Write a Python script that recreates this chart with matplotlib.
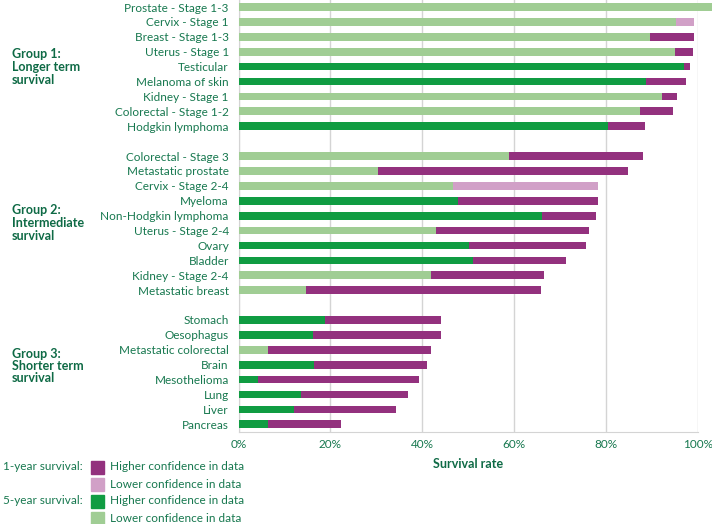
import matplotlib
matplotlib.use('Agg')
import matplotlib.pyplot as plt
from matplotlib.patches import Rectangle

plt.rcParams['font.family'] = ['Lato', 'DejaVu Sans']

# group 1: longer term, group 2: intermediate, group 3: shorter term
group1 = ['Prostate - Stage 1-3', 'Cervix - Stage 1', 'Breast - Stage 1-3', 'Uterus - Stage 1',
          'Testicular', 'Melanoma of skin', 'Kidney - Stage 1', 'Colorectal - Stage 1-2',
          'Hodgkin lymphoma']
group2 = ['Colorectal - Stage 3', 'Metastatic prostate', 'Cervix - Stage 2-4', 'Myeloma',
          'Non-Hodgkin lymphoma', 'Uterus - Stage 2-4', 'Ovary', 'Bladder',
          'Kidney - Stage 2-4', 'Metastatic breast']
group3 = ['Stomach', 'Oesophagus', 'Metastatic colorectal', 'Brain', 'Mesothelioma',
          'Lung', 'Liver', 'Pancreas']

five_year = [103.2, 95.3, 89.6, 95.1, 97.1, 88.7, 92.3, 87.5, 80.4,
             58.8, 30.4, 46.7, 47.8, 66.0, 43.0, 50.2, 51.0, 42.0, 14.7,
             18.8, 16.2, 6.4, 16.4, 4.3, 13.6, 12.0, 6.4]
one_year = [100.0, 99.1, 99.1, 98.9, 98.4, 97.4, 95.5, 94.6, 88.6,
            88.0, 84.9, 78.3, 78.3, 77.8, 76.4, 75.6, 71.4, 66.6, 65.9,
            44.1, 44.1, 42.0, 41.1, 39.4, 37.0, 34.2, 22.3]
# True = higher confidence in data
five_high = [False, False, False, False, True, True, False, False, True,
             False, False, False, True, True, False, True, True, False, False,
             True, True, False, True, True, True, True, True]
one_high = [True, False, True, True, True, True, True, True, True,
            True, True, False, True, True, True, True, True, True, True,
            True, True, True, True, True, True, True, True]

group_titles = ['Group 1:\nLonger term\nsurvival', 'Group 2:\nIntermediate\nsurvival',
                'Group 3:\nShorter term\nsurvival']

PURPLE = '#93317e'
PINK = '#d1a0c7'
DARK = '#109c42'
LIGHT = '#a0cd94'
TEXT = '#17784f'
TITLE = '#0e6a45'

labels = group1 + group2 + group3
pos = list(range(0, 9)) + list(range(10, 20)) + list(range(21, 29))

fig = plt.figure(figsize=(7.12, 5.24), dpi=100)
ax = fig.add_axes([0.335, 0.176, 0.645, 0.824])

for y, f, o, fh, oh in zip(pos, five_year, one_year, five_high, one_high):
    ax.barh(y, o, height=0.52, color=PURPLE if oh else PINK, zorder=2)
    ax.barh(y, f, height=0.52, color=DARK if fh else LIGHT, zorder=3, clip_on=False)

ax.set_xlim(0, 100)
ax.set_ylim(28.5, -0.47)
ax.set_yticks(pos)
ax.set_yticklabels(labels, fontsize=8.5, color=TEXT)
ax.set_xticks([0, 20, 40, 60, 80, 100])
ax.set_xticklabels(['0%', '20%', '40%', '60%', '80%', '100%'], fontsize=8.5, color=TEXT)
ax.tick_params(axis='y', length=0, pad=7)
ax.tick_params(axis='x', length=0, pad=5)
ax.grid(axis='x', color='#d4d4d4', linewidth=1, zorder=0)
for s in ['top', 'right']:
    ax.spines[s].set_visible(False)
ax.spines['left'].set_color('#d4d4d4')
ax.spines['bottom'].set_color('#d4d4d4')
ax.set_xlabel('Survival rate', fontsize=9, fontweight='bold', color=TITLE, labelpad=6)

# group titles
for title, ypx in zip(group_titles, [67, 223, 366]):
    fig.text(12 / 712, 1 - ypx / 524, title, fontsize=9, fontweight='bold', color=TITLE,
             ha='left', va='center', linespacing=1.05)

# legend
leg_rows = [(467, PURPLE, 'Higher confidence in data', '1-year survival:'),
            (484, PINK, 'Lower confidence in data', ''),
            (501, DARK, 'Higher confidence in data', '5-year survival:'),
            (518, LIGHT, 'Lower confidence in data', '')]
for ypx, col, txt, head in leg_rows:
    fig.add_artist(Rectangle((91 / 712, 1 - (ypx + 6.5) / 524), 13 / 712, 13 / 524,
                             transform=fig.transFigure, color=col))
    fig.text(110 / 712, 1 - ypx / 524, txt, fontsize=8.5, color=TEXT, ha='left', va='center')
    if head:
        fig.text(83 / 712, 1 - ypx / 524, head, fontsize=8.5, color=TEXT, ha='right', va='center')

fig.savefig('out.png', dpi=100)
